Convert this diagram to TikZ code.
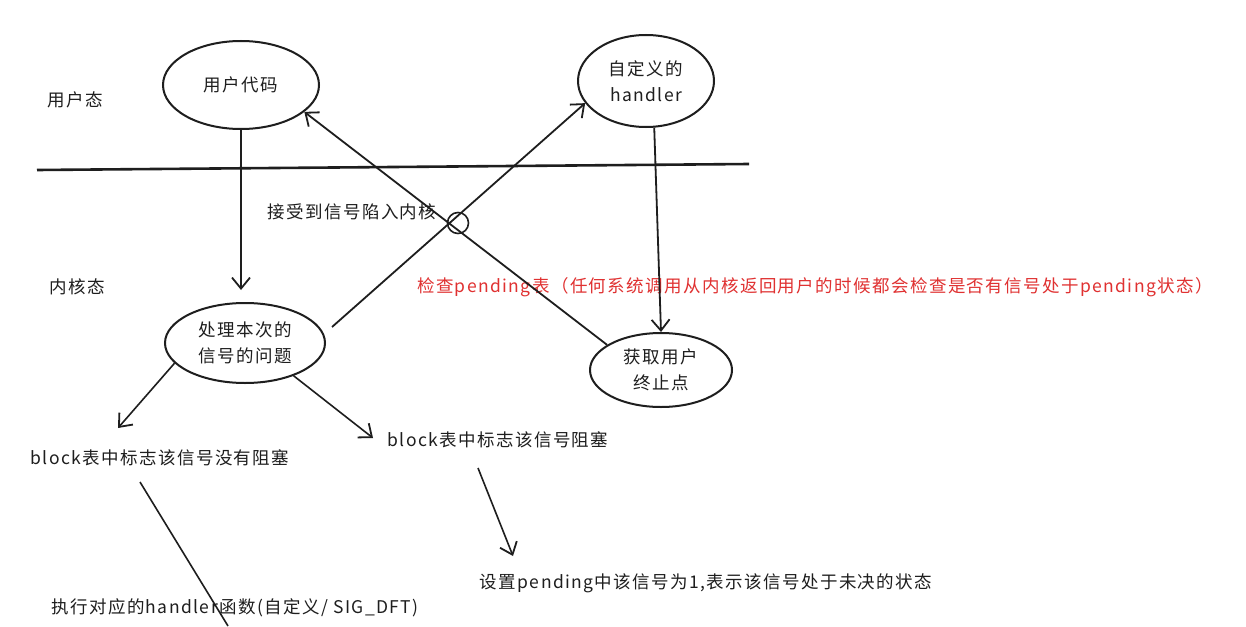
\documentclass[tikz,border=0pt]{standalone}
\usepackage{fontspec}
\setmainfont{Noto Sans CJK SC}[LetterSpace=8]
\usetikzlibrary{shapes.geometric,arrows.meta}
\definecolor{ink}{HTML}{1E1E1E}
\definecolor{redink}{HTML}{E03131}
\tikzset{
  txt/.style={inner sep=0pt, font=\fontsize{17.5pt}{26pt}\selectfont, text=ink, align=center},
  ell/.style={draw=ink, line width=2pt, ellipse, inner sep=0pt, font=\fontsize{17.5pt}{26pt}\selectfont, text=ink, align=center},
  arr/.style={draw=ink, line width=1.8pt, -{Straight Barb[length=11pt,width=18pt,line width=1.8pt]}},
  ln/.style={draw=ink, line width=1.8pt},
}
\begin{document}
\begin{tikzpicture}[x=1pt,y=-1pt]
\useasboundingbox[fill=white] (0,0) rectangle (1246,626);
% ellipses
\node[ell, minimum width=156pt, minimum height=88pt] (uc) at (241,85) {用户代码};
\node[ell, minimum width=136pt, minimum height=92pt] (hd) at (646,81) {自定义的\\handler};
\node[ell, minimum width=160pt, minimum height=80pt] (proc) at (245,343) {处理本次的\\信号的问题};
\node[ell, minimum width=142pt, minimum height=74pt] (get) at (661,370) {获取用户\\终止点};
% labels
\node[txt] (lu) at (75,100) {用户态};
\node[txt] (lk) at (77,287) {内核态};
\node[txt] (recv) at (352,212) {接受到信号陷入内核};
\node[txt, text=redink] (chk) at (815,287) {检查pending表（任何系统调用从内核返回用户的时候都会检查是否有信号处于pending状态）};
\node[txt] (nb) at (160,458) {block表中标志该信号没有阻塞};
\node[txt] (blk) at (498,440) {block表中标志该信号阻塞};
\node[txt] (pend) at (706,583) {设置pending中该信号为1,表示该信号处于未决的状态};
\node[txt] (exec) at (235,608) {执行对应的handler函数(自定义/ SIG\_DFT)};
% divider
\coordinate (dl) at (37,170);
\coordinate (dr) at (749,164);
\draw[ln, line width=2.6pt] (dl) -- (dr);
% small circle
\node[draw=ink, line width=1.6pt, circle, minimum size=21pt, inner sep=0pt] (mk) at (458,223) {};
% connectors
\draw[arr] (uc.south) -- ([yshift=12pt]uc.south |- proc.north);
\coordinate (ps) at (332,327);
\draw[arr] (ps) -- (hd.200);
\draw[arr] (hd.-80) -- (get.north);
\draw[arr] (get.155) -- (uc.-23);
\coordinate (nbT) at (118,428);
\draw[arr, line width=1.6pt] (proc.196) -- (nbT);
\coordinate (blkT) at (373,438);
\draw[arr, line width=1.6pt] (proc.-34) -- (blkT);
\coordinate (bs) at (478,468);
\coordinate (be) at (513,556);
\draw[arr, line width=1.6pt] (bs) -- (be);
\coordinate (es) at (140,482);
\coordinate (ee) at (228,626);
\draw[ln, line width=1.6pt] (es) -- (ee);
\end{tikzpicture}
\end{document}
